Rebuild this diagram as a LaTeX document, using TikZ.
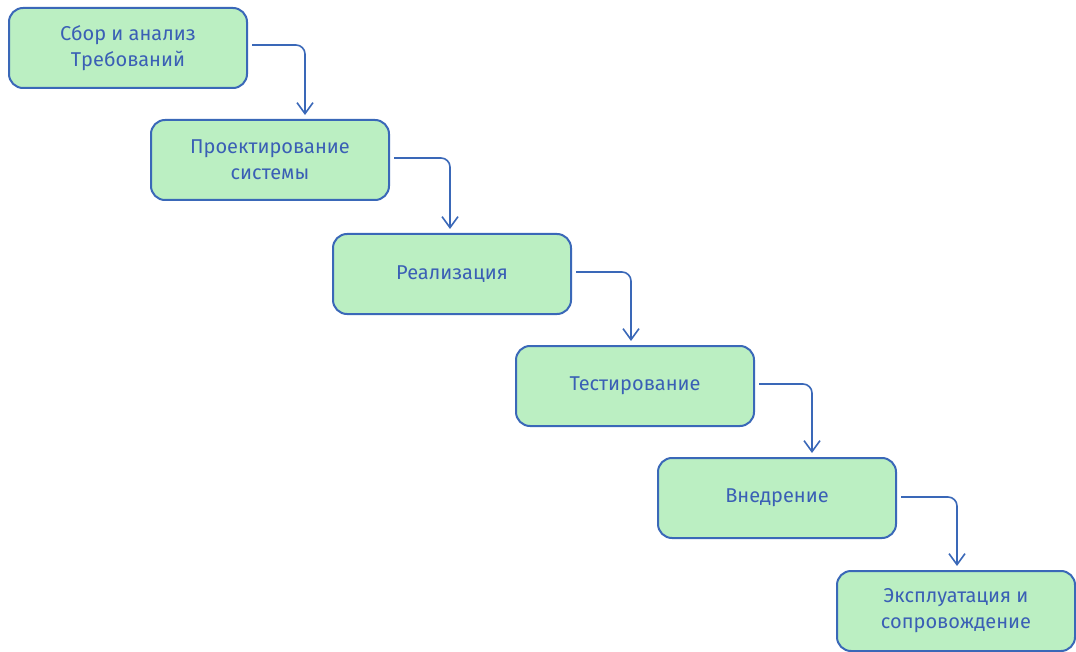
\documentclass[tikz,border=0pt]{standalone}
\usepackage{fontspec}
\setmainfont{Fira Sans}
\usetikzlibrary{arrows.meta,calc}
\definecolor{edge}{HTML}{3A68B8}
\definecolor{boxfill}{HTML}{BBEFC2}
\definecolor{txt}{HTML}{3A5FB5}
\tikzset{
  stage/.style={draw=edge, fill=boxfill, line width=2pt, rounded corners=14pt,
    minimum width=238pt, minimum height=80pt, align=center, text=txt,
    font=\fontsize{20}{26}\selectfont, inner sep=0pt},
  flow/.style={draw=edge, line width=1.6pt, rounded corners=9pt,
    -{Straight Barb[length=11pt,width=16pt,line width=1.6pt]}}
}
\begin{document}
\begin{tikzpicture}[x=1pt,y=-1pt]
\useasboundingbox (0,0) rectangle (1076,652);
\node[stage] (n1) at (128,48) {Сбор и анализ\\Требований};
\node[stage] (n2) at (270,160) {Проектирование\\системы};
\node[stage] (n3) at (452,274) {Реализация};
\node[stage] (n4) at (635,386) {Тестирование};
\node[stage] (n5) at (777,498) {Внедрение};
\node[stage] (n6) at (956,611) {Эксплуатация и\\сопровождение};
\draw[flow] ($(n1.east)+(4,-3)$) -| ($(n1.east |- n2.north)+(57,-4)$);
\draw[flow] ($(n2.east)+(4,-2)$) -| ($(n2.east |- n3.north)+(60,-4)$);
\draw[flow] ($(n3.east)+(4,-2)$) -| ($(n3.east |- n4.north)+(59,-4)$);
\draw[flow] ($(n4.east)+(4,-2)$) -| ($(n4.east |- n5.north)+(57,-4)$);
\draw[flow] ($(n5.east)+(4,-1)$) -| ($(n5.east |- n6.north)+(60,-4)$);
\end{tikzpicture}
\end{document}
